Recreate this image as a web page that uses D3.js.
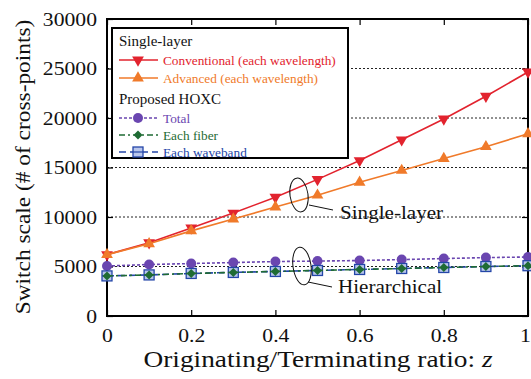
<!DOCTYPE html>
<meta charset="utf-8">
<script src="https://d3js.org/d3.v7.min.js"></script>
<style>
body { margin: 0; background: #fff; }
text { font-family: "Liberation Serif", "Times New Roman", serif; }
</style>
<div id="my_dataviz"></div>
<script>

// data
var zValues = [0, 0.1, 0.2, 0.3, 0.4, 0.5, 0.6, 0.7, 0.8, 0.9, 1];
var conventional = [6200, 7400, 8900, 10400, 12000, 13800, 15700, 17800, 19900, 22200, 24650];
var advanced     = [6200, 7300, 8600, 9800, 11000, 12200, 13500, 14700, 15900, 17100, 18400];
var total        = [5050, 5200, 5300, 5400, 5500, 5550, 5600, 5700, 5800, 5900, 5960];
var eachFiber    = [4050, 4150, 4300, 4400, 4500, 4600, 4700, 4800, 4900, 5000, 5080];
var eachWaveband = [4050, 4150, 4300, 4400, 4500, 4600, 4700, 4800, 4900, 5000, 5080];
var xTicks = [0, 0.2, 0.4, 0.6, 0.8, 1];
var yTicks = [0, 5000, 10000, 15000, 20000, 25000, 30000];

var W = 531, H = 379;
var margin = {top: 19, right: 3, bottom: 63, left: 107},
    width = W - margin.left - margin.right,
    height = H - margin.top - margin.bottom;

// the original type is a bit wider than Liberation Serif, so widen glyphs
function widen(sel, k) {
  sel.each(function() {
    var w = this.getComputedTextLength();
    d3.select(this).attr("textLength", w * k).attr("lengthAdjust", "spacingAndGlyphs");
  });
}

var svg = d3.select("#my_dataviz")
  .append("svg")
    .attr("width", W)
    .attr("height", H)
  .append("g")
    .attr("transform", "translate(" + margin.left + "," + margin.top + ")");

var x = d3.scaleLinear().domain([0, 1]).range([0, width]);
var y = d3.scaleLinear().domain([0, 30000]).range([height, 0]);

// dotted grid
svg.selectAll("grid")
  .data(yTicks.filter(function(d){ return d > 0 && d < 30000 }))
  .enter()
  .append("line")
    .attr("x1", 0).attr("x2", width)
    .attr("y1", function(d){ return y(d) }).attr("y2", function(d){ return y(d) })
    .attr("stroke", "#222")
    .attr("stroke-width", 1)
    .attr("stroke-dasharray", "2,2");

// axes with inward ticks
svg.append("g")
  .attr("transform", "translate(0," + height + ")")
  .call(d3.axisBottom(x).tickValues(xTicks).tickSizeInner(-6).tickSizeOuter(0).tickPadding(13)
        .tickFormat(function(d){ return d === 0 || d === 1 ? d3.format("d")(d) : d3.format(".1f")(d) }))
  .selectAll(".tick text")
    .attr("dx", function(d){ return d === 1 ? -3 : 0 });
svg.append("g")
  .call(d3.axisTop(x).tickValues(xTicks).tickSizeInner(-6).tickSizeOuter(0).tickFormat(""));
svg.append("g")
  .call(d3.axisLeft(y).tickValues(yTicks).tickSizeInner(-6).tickSizeOuter(0).tickPadding(10).tickFormat(d3.format("d")));
svg.append("g")
  .attr("transform", "translate(" + width + ",0)")
  .call(d3.axisRight(y).tickValues(yTicks).tickSizeInner(-6).tickSizeOuter(0).tickFormat(""));

svg.selectAll(".domain").remove();
svg.selectAll(".tick line").attr("stroke", "#000").attr("stroke-width", 1.2);
svg.selectAll(".tick text").style("font-size", "19px").attr("fill", "#111")
  .style("font-family", "'Liberation Serif', serif");
widen(svg.selectAll(".tick text"), 1.14);

// frame
svg.append("rect")
  .attr("x", 0).attr("y", 0).attr("width", width).attr("height", height)
  .attr("fill", "none").attr("stroke", "#000").attr("stroke-width", 2);

// axis titles
var xTitle = svg.append("text")
  .attr("x", 318 - margin.left).attr("y", height + 51)
  .attr("text-anchor", "middle")
  .style("font-size", "24px")
  .attr("fill", "#111")
  .html("Originating/Terminating ratio: <tspan font-style='italic'>z</tspan>");
widen(xTitle, 1.14);

var yTitle = svg.append("text")
  .attr("transform", "translate(" + (-77) + "," + (167 - margin.top) + ") rotate(-90)")
  .attr("text-anchor", "middle")
  .style("font-size", "20.5px")
  .attr("fill", "#111")
  .text("Switch scale (# of cross-points)");
widen(yTitle, 1.14);

// series
var seriesList = [
  {name: "conv", values: conventional, color: "#e2232e", dash: null, width: 1.6, marker: "tridown"},
  {name: "adv", values: advanced, color: "#f07a2a", dash: null, width: 1.6, marker: "triup"},
  {name: "total", values: total, color: "#6a46b0", dash: "3,2", width: 1.6, marker: "circle"},
  {name: "wave", values: eachWaveband, color: "#2446a8", dash: "7,4", width: 1.6, marker: "square"},
  {name: "fiber", values: eachFiber, color: "#1f6b34", dash: "6,3,2,3", width: 1.6, marker: "diamond"}
];

var line = d3.line()
  .x(function(d, i){ return x(zValues[i]) })
  .y(function(d){ return y(d) });

function drawMarker(g, type, color) {
  if (type === "circle") {
    g.append("circle").attr("r", 5).attr("fill", color);
  } else if (type === "triup") {
    g.append("path").attr("d", d3.symbol().type(d3.symbolTriangle).size(60)).attr("fill", color);
  } else if (type === "tridown") {
    g.append("path").attr("d", d3.symbol().type(d3.symbolTriangle).size(60))
      .attr("transform", "rotate(180)").attr("fill", color);
  } else if (type === "diamond") {
    g.append("path").attr("d", "M0,-4.5L4.5,0L0,4.5L-4.5,0Z").attr("fill", color);
  } else if (type === "square") {
    g.append("rect").attr("x", -5).attr("y", -5).attr("width", 10).attr("height", 10)
      .attr("fill", "#b9c6ec").attr("stroke", color).attr("stroke-width", 1.3);
    g.append("line").attr("x1", -5).attr("x2", 5).attr("y1", 0).attr("y2", 0)
      .attr("stroke", color).attr("stroke-width", 1.2);
  }
}

seriesList.forEach(function(s) {
  svg.append("path")
    .attr("d", line(s.values))
    .attr("fill", "none")
    .attr("stroke", s.color)
    .attr("stroke-width", s.width)
    .attr("stroke-dasharray", s.dash);
  s.values.forEach(function(v, i) {
    var g = svg.append("g").attr("transform", "translate(" + x(zValues[i]) + "," + y(v) + ")");
    drawMarker(g, s.marker, s.color);
  });
});

// legend
var leg = svg.append("g").attr("transform", "translate(5,9)");
leg.append("rect")
  .attr("x", 0).attr("y", 0).attr("width", 236).attr("height", 130)
  .attr("fill", "#fff").attr("stroke", "#000").attr("stroke-width", 2);

var legendRows = [
  {label: "Single-layer", header: true, y: 13},
  {label: "Conventional (each wavelength)", s: seriesList[0], y: 32},
  {label: "Advanced (each wavelength)", s: seriesList[1], y: 50},
  {label: "Proposed HOXC", header: true, y: 71},
  {label: "Total", s: seriesList[2], y: 90},
  {label: "Each fiber", s: seriesList[4], y: 107},
  {label: "Each waveband", s: seriesList[3], y: 124}
];
legendRows.forEach(function(r) {
  if (r.header) {
    leg.append("text").attr("x", 7).attr("y", r.y + 5)
      .style("font-size", "15px").attr("fill", "#111").text(r.label);
    return;
  }
  leg.append("line")
    .attr("x1", 7).attr("x2", 46).attr("y1", r.y).attr("y2", r.y)
    .attr("stroke", r.s.color).attr("stroke-width", r.s.width)
    .attr("stroke-dasharray", r.s.dash);
  var g = leg.append("g").attr("transform", "translate(26," + r.y + ")");
  drawMarker(g, r.s.marker, r.s.color);
  leg.append("text").attr("x", 51).attr("y", r.y + 5)
    .style("font-size", "13.3px").attr("fill", r.s.color).text(r.label);
});

// annotations
svg.append("ellipse")
  .attr("cx", 299 - margin.left).attr("cy", 195 - margin.top)
  .attr("rx", 9).attr("ry", 17)
  .attr("transform", "rotate(-8," + (299 - margin.left) + "," + (195 - margin.top) + ")")
  .attr("fill", "none").attr("stroke", "#111").attr("stroke-width", 1);
svg.append("line")
  .attr("x1", 309 - margin.left).attr("y1", 205 - margin.top)
  .attr("x2", 333 - margin.left).attr("y2", 210 - margin.top)
  .attr("stroke", "#111").attr("stroke-width", 1);
var ann1 = svg.append("text")
  .attr("x", 340 - margin.left).attr("y", 219 - margin.top)
  .style("font-size", "18.5px").attr("fill", "#111").text("Single-layer");
widen(ann1, 1.14);

svg.append("ellipse")
  .attr("cx", 302 - margin.left).attr("cy", 266 - margin.top)
  .attr("rx", 9).attr("ry", 19)
  .attr("transform", "rotate(-8," + (302 - margin.left) + "," + (266 - margin.top) + ")")
  .attr("fill", "none").attr("stroke", "#111").attr("stroke-width", 1);
svg.append("line")
  .attr("x1", 308 - margin.left).attr("y1", 282 - margin.top)
  .attr("x2", 332 - margin.left).attr("y2", 287 - margin.top)
  .attr("stroke", "#111").attr("stroke-width", 1);
var ann2 = svg.append("text")
  .attr("x", 338 - margin.left).attr("y", 293 - margin.top)
  .style("font-size", "18.5px").attr("fill", "#111").text("Hierarchical");
widen(ann2, 1.14);

</script>
